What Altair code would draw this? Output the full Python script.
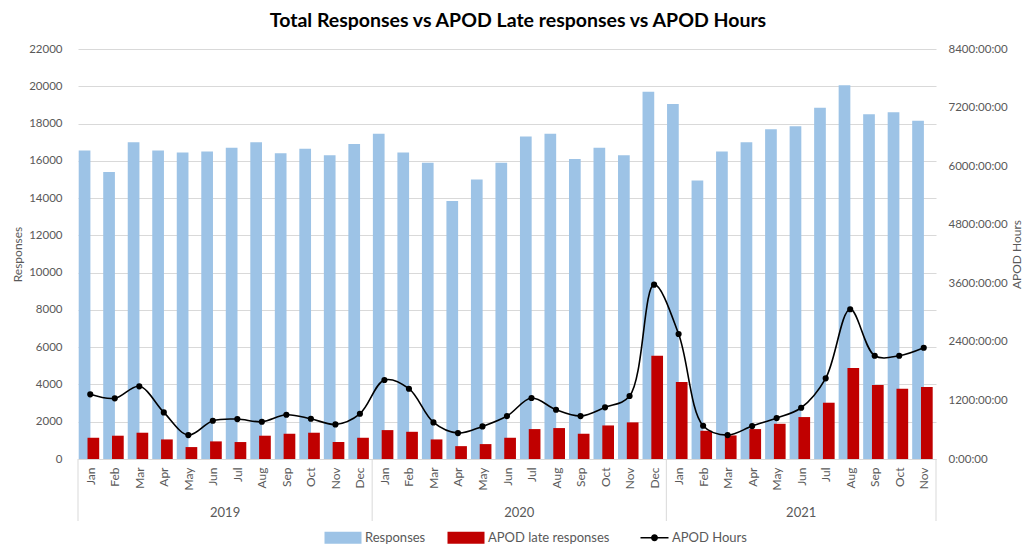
import json
import altair as alt
import pandas as pd

# ---- data ----
month_labels = ["Jan", "Feb", "Mar", "Apr", "May", "Jun", "Jul", "Aug", "Sep", "Oct", "Nov", "Dec",
                "Jan", "Feb", "Mar", "Apr", "May", "Jun", "Jul", "Aug", "Sep", "Oct", "Nov", "Dec",
                "Jan", "Feb", "Mar", "Apr", "May", "Jun", "Jul", "Aug", "Sep", "Oct", "Nov"]
year_labels = ["2019"] * 12 + ["2020"] * 12 + ["2021"] * 11

responses = [16550, 15400, 17000, 16550, 16450, 16500, 16700, 17000, 16400, 16650, 16300, 16900,
             17450, 16450, 15900, 13850, 15000, 15900, 17300, 17450, 16100, 16700, 16300, 19700,
             19050, 14950, 16500, 17000, 17700, 17850, 18850, 20050, 18500, 18600, 18150]

late_responses = [1140, 1250, 1410, 1050, 640, 945, 910, 1250, 1355, 1410, 910, 1140,
                  1550, 1460, 1050, 690, 800, 1140, 1605, 1660, 1355, 1800, 1965, 5540,
                  4130, 1515, 1265, 1605, 1890, 2250, 3020, 4880, 3970, 3770, 3860]

apod_hours = [1325, 1243, 1489, 955, 490, 783, 818, 763, 906, 824, 709, 927,
              1618, 1440, 750, 531, 668, 880, 1249, 1009, 880, 1058, 1290, 3572,
              2561, 681, 490, 675, 839, 1050, 1653, 3068, 2116, 2116, 2280]

series_names = ["Responses", "APOD late responses", "APOD Hours"]
series_colors = ["#9DC3E6", "#C00000", "#000000"]

df = pd.DataFrame({
    "idx": list(range(len(month_labels))),
    "month": month_labels,
    "year": year_labels,
    "responses": responses,
    "late": late_responses,
    "hours": apod_hours,
})

# year boundaries (category edges where the year changes)
bounds = [-0.5]
for i in range(1, len(year_labels)):
    if year_labels[i] != year_labels[i - 1]:
        bounds.append(i - 0.5)
bounds.append(len(year_labels) - 0.5)
df_bounds = pd.DataFrame({"idx": bounds})

W, H = 858, 410
FONT = "Lato"
GREY = "#595959"
GRID = "#d9d9d9"

x_scale = alt.Scale(domain=[-0.5, len(month_labels) - 0.5], nice=False, zero=False, padding=0)
x_axis = alt.Axis(values=list(range(len(month_labels))),
                  labelExpr=json.dumps(month_labels) + "[datum.value]",
                  labelAngle=270, labelPadding=8, labelFlush=False, labelOverlap=False,
                  ticks=False, grid=False, domainColor=GRID, title=None,
                  labelFontSize=12, labelColor=GREY, labelFont=FONT)
xenc = alt.X("idx:Q", scale=x_scale, axis=x_axis)

left_scale = alt.Scale(domain=[0, 22000], nice=False)
left_axis = alt.Axis(values=list(range(0, 22001, 2000)), format="d", orient="left",
                     grid=True, gridColor=GRID, ticks=False, domain=False,
                     labelPadding=16, labelFontSize=11.5, labelColor=GREY, labelFont=FONT,
                     title="Responses", titleFontSize=12, titleColor=GREY, titleFont=FONT,
                     titleFontWeight="normal", titlePadding=4)

right_scale = alt.Scale(domain=[0, 8400], nice=False)
right_axis = alt.Axis(values=list(range(0, 8401, 1200)), labelExpr="datum.value + ':00:00'",
                      orient="right", grid=False, ticks=False, domain=False,
                      labelPadding=12, labelFontSize=11.5, labelColor=GREY, labelFont=FONT,
                      title="APOD Hours", titleFontSize=12, titleColor=GREY, titleFont=FONT,
                      titleFontWeight="normal", titleAngle=270, titleBaseline="top",
                      titlePadding=4)

rect_path = "M-1,-1.2H6.4V1.2H-1Z"
line_path = ("M0.8,-0.15H6.4V0.15H0.8Z "
             "M3.6,-0.7A0.7,0.7,0,1,1,3.6,0.7A0.7,0.7,0,1,1,3.6,-0.7Z")

color_scale = alt.Scale(domain=series_names, range=series_colors)
shape_scale = alt.Scale(domain=series_names, range=[rect_path, rect_path, line_path])
legend = alt.Legend(orient="none", legendX=245, legendY=482, direction="horizontal",
                    title=None, symbolSize=100, symbolStrokeWidth=0, symbolOpacity=1,
                    labelOffset=29, columnPadding=20, labelFontSize=13,
                    labelColor=GREY, labelFont=FONT)

base = alt.Chart(df)

blue = base.transform_calculate(series="'Responses'").mark_bar(
    width=11.7, xOffset=-5.7, color="#9DC3E6").encode(
    x=xenc,
    y=alt.Y("responses:Q", scale=left_scale, axis=left_axis),
    color=alt.Color("series:N", scale=color_scale, legend=legend),
)

red = base.transform_calculate(series="'APOD late responses'").mark_bar(
    width=11.7, xOffset=3.1, color="#C00000").encode(
    x=xenc,
    y=alt.Y("late:Q", scale=left_scale, axis=left_axis),
    color=alt.Color("series:N", scale=color_scale, legend=legend),
)

legend_layer = base.transform_filter("false").transform_calculate(
    series="'APOD Hours'").mark_point(filled=True).encode(
    x=xenc,
    y=alt.Y("responses:Q", scale=left_scale, axis=left_axis),
    color=alt.Color("series:N", scale=color_scale, legend=legend),
    shape=alt.Shape("series:N", scale=shape_scale, legend=legend),
)

year_text = base.transform_aggregate(idx="mean(idx)", groupby=["year"]).mark_text(
    fontSize=13, color=GREY, font=FONT, baseline="middle").encode(
    x=xenc,
    y=alt.value(H + 54),
    text="year:N",
)

year_rules = alt.Chart(df_bounds).mark_rule(color=GRID, strokeWidth=1).encode(
    x=xenc,
    y=alt.value(H),
    y2=alt.value(H + 62),
)

left_layer = alt.layer(blue, red, legend_layer, year_rules, year_text)

hours_line = base.mark_line(interpolate="catmull-rom", color="black", strokeWidth=1.6).encode(
    x=xenc,
    y=alt.Y("hours:Q", scale=right_scale, axis=right_axis),
)
hours_pts = base.mark_circle(size=38, color="black", opacity=1).encode(
    x=xenc,
    y=alt.Y("hours:Q", scale=right_scale, axis=right_axis),
)
right_layer = alt.layer(hours_line, hours_pts)

chart = alt.layer(left_layer, right_layer).resolve_scale(y="independent").properties(
    width=W, height=H,
    padding={"left": 70, "top": 41, "right": 90, "bottom": 85},
    autosize=alt.AutoSizeParams(type="none"),
    title=alt.TitleParams("Total Responses vs APOD Late responses vs APOD Hours",
                          font=FONT, fontSize=19.5, fontWeight="bold", color="black",
                          anchor="middle", dx=11, offset=12),
).configure_view(stroke="transparent")

chart.save("out.html", embed_options={"renderer": "svg", "actions": False})
